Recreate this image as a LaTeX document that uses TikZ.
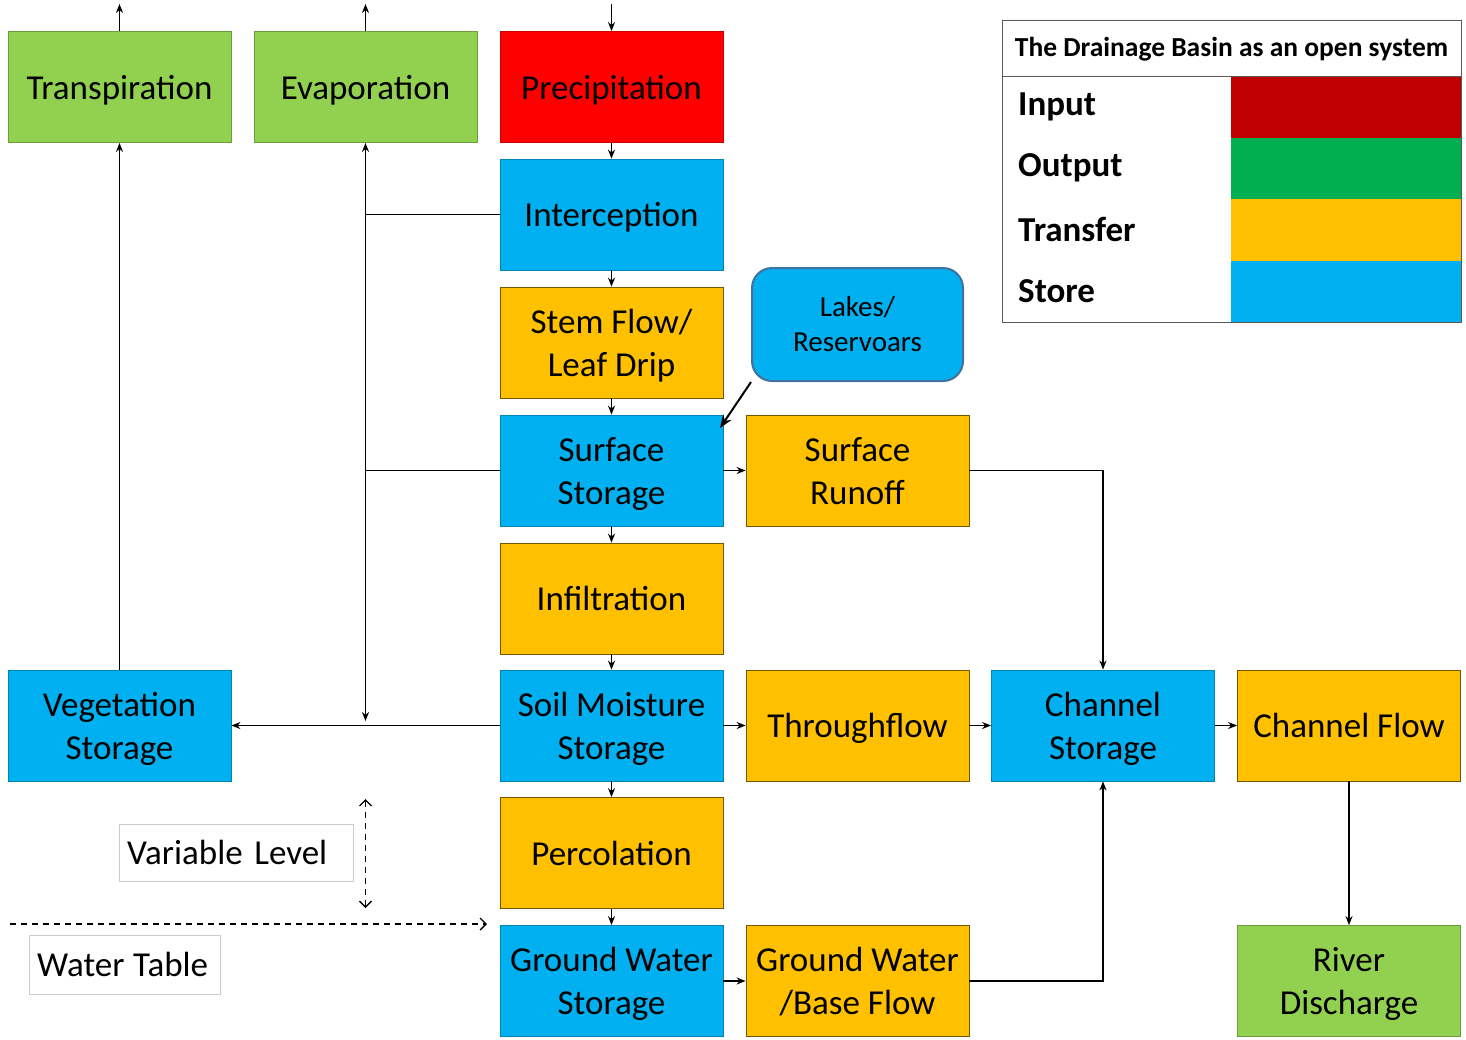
\documentclass[tikz,border=0pt]{standalone}
\usepackage{fontspec}
\setmainfont{Carlito}
\usetikzlibrary{arrows.meta}
\definecolor{cgreen}{HTML}{92D050}
\definecolor{cred}{HTML}{FF0000}
\definecolor{cblue}{HTML}{00B0F0}
\definecolor{corange}{HTML}{FFC000}
\definecolor{lin}{HTML}{C00000}
\definecolor{lout}{HTML}{00B050}
\definecolor{lakeborder}{HTML}{41719C}
\begin{document}
\begin{tikzpicture}[x=1pt,y=-1pt,
  box/.style={minimum width=223pt, minimum height=111pt, inner sep=0pt, align=center,
    font=\fontsize{35}{43}\selectfont, line width=0.8pt, text depth=0pt},
  gbox/.style={box, fill=cgreen, draw=cgreen!75!black},
  rbox/.style={box, fill=cred, draw=cred!80!black},
  bbox/.style={box, fill=cblue, draw=cblue!75!black},
  obox/.style={box, fill=corange, draw=corange!45!black},
  lakebox/.style={minimum width=211pt, minimum height=113pt, inner sep=0pt, align=center,
    font=\fontsize{29}{35}\selectfont, fill=cblue, draw=lakeborder, line width=2pt, rounded corners=20pt},
  tip/.style={Stealth[length=9pt,width=7pt]},
  arr/.style={line width=1.5pt, -{Stealth[length=9pt,width=7pt]}},
  plain/.style={line width=1.5pt},
  darr/.style={line width=1.4pt, dashed, dash pattern=on 6pt off 5pt, -{Straight Barb[length=6pt,width=12pt]}},
  lbl/.style={draw=gray!40, inner xsep=8pt, inner ysep=0pt, align=left, minimum height=57pt,
    font=\fontsize{35}{43}\selectfont, anchor=west},
  legtxt/.style={anchor=west, inner sep=0pt, font=\fontsize{35}{43}\selectfont\bfseries},
]
\useasboundingbox (0,0) rectangle (1466,1039);

% main boxes
\node[gbox] (trans) at (119.5,87) {Transpiration};
\node[gbox] (evap) at (365.5,87) {Evaporation};
\node[rbox] (prec) at (611.5,87) {Precipitation};
\node[bbox] (inter) at (611.5,214.5) {Interception};
\node[obox] (stem) at (611.5,342.5) {Stem Flow/\\Leaf Drip};
\node[bbox] (surf) at (611.5,470.5) {Surface\\Storage};
\node[obox] (runoff) at (857.5,470.5) {Surface\\Runoff};
\node[obox] (infil) at (611.5,598.5) {Infiltration};
\node[bbox] (soil) at (611.5,725.5) {Soil Moisture\\Storage};
\node[obox] (through) at (857.5,725.5) {Throughflow};
\node[bbox] (chst) at (1103,725.5) {Channel\\Storage};
\node[obox] (chfl) at (1349,725.5) {Channel Flow};
\node[bbox] (veg) at (119.5,725.5) {Vegetation\\Storage};
\node[obox] (perc) at (611.5,853) {Percolation};
\node[bbox] (gws) at (611.5,981) {Ground Water\\Storage};
\node[obox] (gwf) at (857.5,981) {Ground Water\\/Base Flow};
\node[gbox] (river) at (1349,981) {River\\Discharge};
\node[lakebox] (lakes) at (857.5,324.5) {Lakes/\\Reservoars};

% free ends
\coordinate (t0) at (119.5,4);
\coordinate (e0) at (365.5,4);
\coordinate (p0) at (611.5,4);
\coordinate (ev) at (365.5,721);
\coordinate (lk) at (720,428);
\coordinate (wt0) at (10,924);
\coordinate (wt1) at (487,924);
\coordinate (vl0) at (365.5,799);
\coordinate (vl1) at (365.5,908);

% connectors
\draw[arr] (trans.north) -- (t0);
\draw[arr] (evap.north) -- (e0);
\draw[arr] (p0) -- (prec.north);
\draw[arr] (prec.south) -- (inter.north);
\draw[arr] (inter.south) -- (stem.north);
\draw[arr] (stem.south) -- (surf.north);
\draw[arr] (surf.south) -- (infil.north);
\draw[arr] (infil.south) -- (soil.north);
\draw[arr] (soil.south) -- (perc.north);
\draw[arr] (perc.south) -- (gws.north);
\draw[arr] (surf.east) -- (runoff.west);
\draw[arr] (soil.east) -- (through.west);
\draw[arr] (through.east) -- (chst.west);
\draw[arr] (chst.east) -- (chfl.west);
\draw[arr] (gws.east) -- (gwf.west);
\draw[arr] (runoff.east) -| (chst.north);
\draw[arr] (gwf.east) -| (chst.south);
\draw[arr] (chfl.south) -- (river.north);
\draw[arr] (veg.north) -- (trans.south);
\draw[plain, {Stealth[length=9pt,width=7pt]}-{Stealth[length=9pt,width=7pt]}] (evap.south) -- (ev);
\draw[plain] (inter.west) -- (inter.west -| evap.south);
\draw[plain] (surf.west) -- (surf.west -| evap.south);
\draw[arr] (soil.west) -- (veg.east);
\draw[line width=2pt, -{Stealth[length=13pt,width=10pt]}] (lakes.south west) -- (lk);

% water table annotations
\draw[darr] (wt0) -- (wt1);
\draw[darr, {Straight Barb[length=6pt,width=12pt]}-{Straight Barb[length=6pt,width=12pt]}] (vl0) -- (vl1);
\node[lbl, text width=218pt] (vlevel) at (119,852.5) {Variable Level};
\node[lbl, text width=175pt, minimum height=59pt] (wtable) at (29,964.5) {Water\hspace{-3pt} Table};

% legend
\fill[lin] (1231,76) rectangle (1461,137.5);
\fill[lout] (1231,137.5) rectangle (1461,199);
\fill[corange] (1231,199) rectangle (1461,260.5);
\fill[cblue] (1231,260.5) rectangle (1461,322);
\node[draw=gray!70!black, line width=1pt, minimum width=459pt, minimum height=302pt, inner sep=0pt, anchor=north west] (legend) at (1002,20) {};
\draw[gray!70!black, line width=1pt] (legend.west |- 0,76) -- (legend.east |- 0,76);
\node[inner sep=0pt, font=\fontsize{27.5}{32}\selectfont\bfseries] (legtitle) at (1231.5,49) {The Drainage Basin as an open system};
\node[legtxt] (linput) at (1018,106.5) {Input};
\node[legtxt] (loutput) at (1018,168) {Output};
\node[legtxt] (ltransfer) at (1018,229.5) {Transfer};
\node[legtxt] (lstore) at (1018,291) {Store};
\end{tikzpicture}
\end{document}
